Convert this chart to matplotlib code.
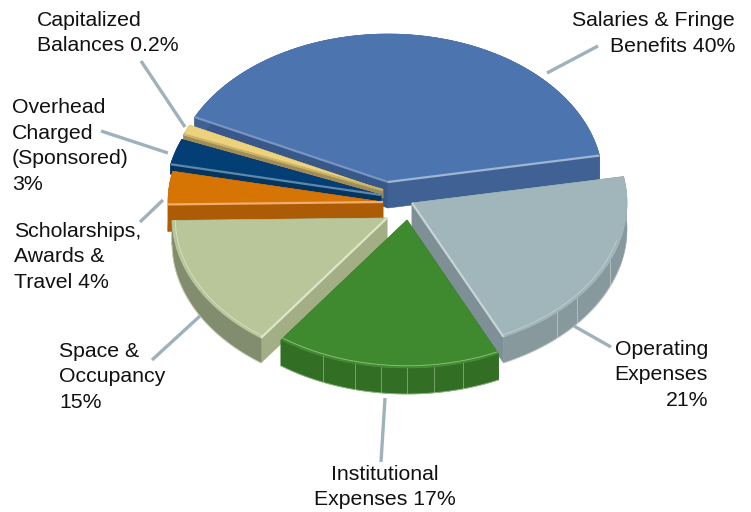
import numpy as np
import matplotlib
matplotlib.use("Agg")
import matplotlib.pyplot as plt
from matplotlib.patches import Polygon

plt.rcParams['font.family'] = ['Liberation Sans', 'DejaVu Sans']

# ---- data (clockwise from the Salaries slice) ----
categories = ["Salaries & Fringe Benefits", "Operating Expenses", "Institutional Expenses",
              "Space & Occupancy", "Scholarships, Awards & Travel",
              "Overhead Charged (Sponsored)", "Capitalized Balances"]
shares = [40.0, 20.9, 17.0, 14.8, 3.6, 2.8, 1.1]
tick_labels = ["Salaries & Fringe\nBenefits 40%", "Operating\nExpenses\n21%",
               "Institutional\nExpenses 17%", "Space &\nOccupancy\n15%",
               "Scholarships,\nAwards &\nTravel 4%", "Overhead\nCharged\n(Sponsored)\n3%",
               "Capitalized\nBalances 0.2%"]

# ---- style / layout ----
START = -64.0
A, B = 215.0, 148.0
apex = [(388, 182), (412, 203), (407, 220), (387, 218), (383, 202), (381, 195), (383, 190)]
depth = [26, 26, 26, 25, 27, 10, 8]
top_c = ['#4c75af', '#a0b6ba', '#3f8a2e', '#b8c69a', '#d67404', '#033e74', '#edd27c']
side_c = ['#3f6193', '#88999e', '#326f25', '#828d6f', '#ad5c05', '#03315c', '#a08c58']
face_start = ['#39588a', '#88999e', '#326f25', '#a3ae85', '#ad5c05', '#033560', '#a08c58']
face_end = ['#3f6193', '#7e9095', '#326f25', '#828d6f', '#ad5c05', '#03315c', '#a08c58']
edge_light_start = ['#7895c2', None, None, '#dfe6c8', '#f0ad70', '#5f88a8', '#c9b46a']
edge_light_end = ['#9fb5d6', '#c8d4d8', None, None, None, None, None]
rim_c = [None, '#c5d3d6', '#a6cc96', '#dfe5cc', None, None, None]
rim_from = [0, 105, 0, 0, 0, 0, 0]
seams = [[], [113, 130, 137.6], [165, 172.8, 180, 187, 194, 203], [], [], [], []]
order = [0, 6, 5, 4, 1, 3, 2]

text_pos = [(735, 33.5, 'right', 'right'), (708, 375, 'right', 'right'),
            (385, 487, 'center', 'center'), (59, 377, 'left', 'left'),
            (14, 257, 'left', 'left'), (12, 146, 'left', 'left'),
            (37, 33, 'left', 'left')]
leaders = [((547, 73), (598, 46)), ((574, 326), (611, 347)), ((385, 398), (381, 462)),
           ((200, 316), (152, 360)), ((163, 200), (140, 222)), ((168, 153), (101, 131)),
           ((185, 127), (141, 61))]

fig = plt.figure(figsize=(7.51, 5.12), dpi=100)
ax = fig.add_axes([0, 0, 1, 1])
ax.set_xlim(0, 751)
ax.set_ylim(512, 0)
ax.axis('off')


def pt(c, th, r=1.0, dy=0.0):
    th = np.radians(th)
    return np.column_stack([c[0] + A * r * np.sin(th), c[1] - B * r * np.cos(th) + dy])


bounds = START + np.concatenate([[0], np.cumsum(shares)]) * 360.0 / sum(shares)

for i in order:
    c = apex[i]
    t0, t1 = bounds[i], bounds[i + 1]
    th = np.linspace(t0, t1, 90)
    d = depth[i]
    arc = pt(c, th)
    low = pt(c, th, dy=d)
    c0 = np.array([c])
    c1 = c0 + [0, d]
    fs = Polygon(np.vstack([c0, arc[:1], low[:1], c1]), fc=face_start[i], ec=face_start[i], lw=0.4)
    fe = Polygon(np.vstack([c0, arc[-1:], low[-1:], c1]), fc=face_end[i], ec=face_end[i], lw=0.4)
    for f in ([fe, fs] if arc[0, 1] > arc[-1, 1] else [fs, fe]):
        ax.add_patch(f)
    ax.add_patch(Polygon(np.vstack([arc, low[::-1]]), fc=side_c[i], ec=side_c[i], lw=0.4))
    for s in seams[i]:
        p = pt(c, np.array([s]))
        ax.plot([p[0, 0]] * 2, [p[0, 1], p[0, 1] + d], color='white', lw=0.6, alpha=0.4)
    mask = th >= rim_from[i]
    if rim_c[i]:
        ax.plot(low[mask, 0], low[mask, 1], color=rim_c[i], lw=0.7, alpha=0.7)
    ax.add_patch(Polygon(np.vstack([c0, arc]), fc=top_c[i], ec=top_c[i], lw=0.4))
    if rim_c[i]:
        rim = pt(c, th[mask], r=0.985)
        ax.plot(rim[:, 0], rim[:, 1], color=rim_c[i], lw=0.7, alpha=0.75)
    if edge_light_start[i]:
        ax.plot([c[0], arc[0, 0]], [c[1], arc[0, 1]], color=edge_light_start[i], lw=1.6,
                solid_capstyle='butt')
    if edge_light_end[i]:
        ax.plot([c[0], arc[-1, 0]], [c[1], arc[-1, 1]], color=edge_light_end[i], lw=1.6,
                solid_capstyle='butt')

for (p, q) in leaders:
    ax.plot([p[0], q[0]], [p[1], q[1]], color='#9fb1bd', lw=2.4, solid_capstyle='butt')

for lab, (x, y, ha, ma) in zip(tick_labels, text_pos):
    ax.text(x, y, lab, ha=ha, va='center', multialignment=ma, fontsize=15.3,
            linespacing=1.46, color='#111111')

fig.savefig('out.png', dpi=100)
